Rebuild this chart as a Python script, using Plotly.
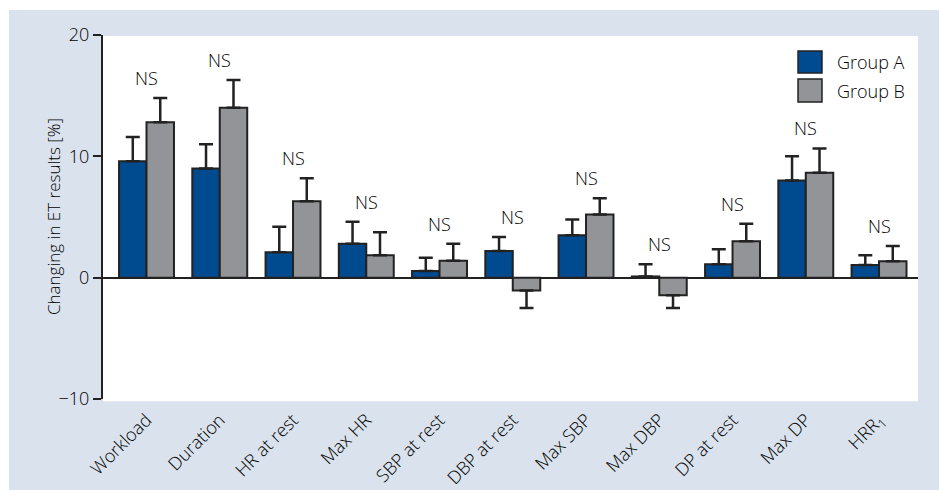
import plotly.graph_objects as go

# Exercise-test parameters and mean change (%) with SD for each group
categories = ["Workload", "Duration", "HR at rest", "Max HR", "SBP at rest",
              "DBP at rest", "Max SBP", "Max DBP", "DP at rest", "Max DP",
              "HRR<sub>1</sub>"]
group_a = [9.6, 9.0, 2.1, 2.8, 0.55, 2.2, 3.5, 0.1, 1.1, 8.0, 1.05]
err_a = [2.0, 2.0, 2.1, 1.8, 1.1, 1.15, 1.3, 1.0, 1.25, 2.0, 0.8]
group_b = [12.8, 14.0, 6.3, 1.85, 1.4, -1.05, 5.2, -1.45, 3.0, 8.65, 1.35]
err_b = [2.0, 2.3, 1.9, 1.9, 1.4, 1.45, 1.35, 1.05, 1.45, 2.0, 1.25]
significance = ["NS"] * len(categories)
series_names = ["Group A", "Group B"]
y_ticks = [-10, 0, 10, 20]
y_tick_text = ["\u221210", "0", "10", "20"]
y_title = "Changing in ET results [%]"

COLORS = ["#004a8f", "#939498"]
EDGE = "#222222"
PANEL = "#dae3ed"
FONT = "Open Sans"
TEXT = dict(family=FONT, size=18, color="#000000", weight=300)

x = list(range(len(categories)))


def one_sided(values, errs):
    """Error bars point away from zero: up for gains, down for losses."""
    up = [e if v >= 0 else 0 for v, e in zip(values, errs)]
    down = [e if v < 0 else 0 for v, e in zip(values, errs)]
    return up, down


fig = go.Figure()
for name, vals, errs, color in zip(series_names, [group_a, group_b],
                                   [err_a, err_b], COLORS):
    up, down = one_sided(vals, errs)
    fig.add_trace(go.Bar(
        x=x, y=vals, name=name, showlegend=False,
        marker=dict(color=color, line=dict(color=EDGE, width=2)),
        error_y=dict(type="data", symmetric=False, array=up, arrayminus=down,
                     color=EDGE, thickness=2.5, width=7),
    ))

# "NS" markers above each pair of bars
for i, label in enumerate(significance):
    top = max(group_a[i] + (err_a[i] if group_a[i] >= 0 else 0),
              group_b[i] + (err_b[i] if group_b[i] >= 0 else 0), 0)
    fig.add_annotation(x=i, y=top, text=label, showarrow=False,
                       yanchor="middle", yshift=20, font=TEXT)

# Background panel and white plotting area
fig.add_shape(type="rect", xref="paper", yref="paper", x0=-0.1153, x1=1.03,
              y0=-0.3, y1=1.0687, fillcolor=PANEL, line_width=0, layer="below")
fig.add_shape(type="rect", xref="paper", yref="paper", x0=0, x1=1,
              y0=-0.006, y1=0.997, fillcolor="white", line_width=0,
              layer="below")

# Legend with large swatches
legend_rows = [(0.956, 0.8956), (0.8791, 0.8159)]
for name, color, (y1, y0) in zip(series_names, COLORS, legend_rows):
    fig.add_shape(type="rect", xref="paper", yref="paper", x0=0.8528,
                  x1=0.8822, y0=y0, y1=y1, fillcolor=color,
                  line=dict(color=EDGE, width=1.5))
    fig.add_annotation(xref="paper", yref="paper", x=0.898, y=(y0 + y1) / 2,
                       text=name, showarrow=False, xanchor="left",
                       yanchor="middle", font=TEXT)

# Y-axis title
fig.add_annotation(xref="paper", yref="paper", x=-0.0613, y=0.5,
                   text=y_title, textangle=-90, showarrow=False,
                   xanchor="center", yanchor="middle",
                   font=dict(TEXT, size=17))

fig.update_layout(
    width=939, height=490,
    margin=dict(l=103, r=21, t=35, b=91),
    paper_bgcolor="white", plot_bgcolor="rgba(0,0,0,0)",
    barmode="group", bargap=0.25, bargroupgap=0,
    font=TEXT,
    showlegend=False,
)
fig.update_xaxes(
    range=[-0.594, 10.532], tickmode="array", tickvals=x,
    ticktext=categories, tickangle=-45, showline=False, showgrid=False,
    zeroline=False, ticks="", tickfont=TEXT, automargin=False,
    ticklabelstandoff=6,
)
fig.update_yaxes(
    range=[-10, 20], tickvals=y_ticks, ticktext=y_tick_text,
    showline=True, linecolor=EDGE, linewidth=2, ticks="outside",
    ticklen=8, tickwidth=2, tickcolor=EDGE, showgrid=False,
    zeroline=True, zerolinecolor=EDGE, zerolinewidth=2,
    tickfont=TEXT, automargin=False,
)

fig.write_html("out.html")
